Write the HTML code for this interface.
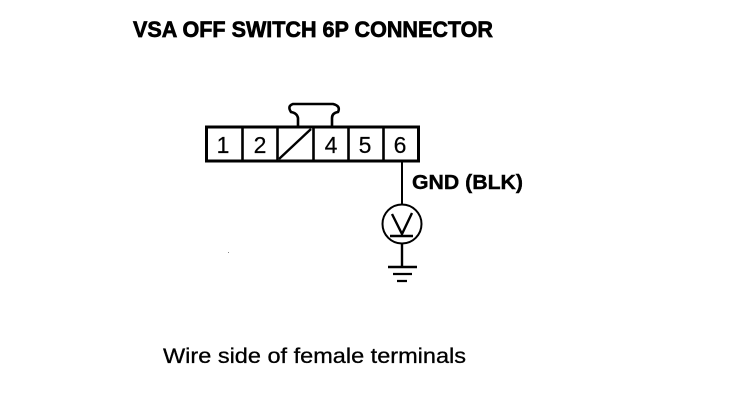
<!DOCTYPE html>
<html><head><meta charset="utf-8"><style>
html,body{margin:0;padding:0;background:#fff;width:736px;height:404px;overflow:hidden}
svg{display:block}
text{font-family:"Liberation Sans",Arial,sans-serif;fill:#000}
</style></head><body>
<svg width="736" height="404" viewBox="0 0 736 404" xmlns="http://www.w3.org/2000/svg">
<rect width="736" height="404" fill="#fff"/>
<text x="133" y="37" font-size="22.5" font-weight="bold" stroke="#000" stroke-width="0.7" textLength="360" lengthAdjust="spacingAndGlyphs">VSA OFF SWITCH 6P CONNECTOR</text>
<g fill="none" stroke="#000">
<path d="M298 126V118Q297 113 291 112Q287 106 293 104H333Q341 106 338 112Q332 113 332 118V126" stroke-width="2.6"/>
<rect x="206.5" y="127" width="212" height="34" stroke-width="3"/>
<path d="M242.5 127V161M277.5 127V161M313.5 127V161M348.5 127V161M383.5 127V161" stroke-width="2.6"/>
<path d="M279 159L311 129" stroke-width="2.4"/>
<path d="M402 161V205" stroke-width="2"/>
<circle cx="402" cy="224" r="19.5" stroke-width="2"/>
<path d="M392 214L402 234L412 213" stroke-width="2.4"/>
<path d="M390 236H413" stroke-width="2.6"/>
<path d="M402 243V267" stroke-width="2.4"/>
<path d="M388 267H417" stroke-width="2.6"/>
<path d="M393 274H412M397 281H407" stroke-width="2.2"/>
</g>
<g font-size="23" text-anchor="middle" stroke="#000" stroke-width="0.2">
<text x="223" y="153">1</text>
<text x="260" y="153">2</text>
<text x="331" y="153">4</text>
<text x="365" y="153">5</text>
<text x="400" y="153">6</text>
</g>
<text x="412" y="189" font-size="20.5" font-weight="bold" stroke="#000" stroke-width="0.4" textLength="111" lengthAdjust="spacingAndGlyphs">GND (BLK)</text>
<text x="163" y="363" font-size="21.5" textLength="303" lengthAdjust="spacingAndGlyphs" stroke="#000" stroke-width="0.3">Wire side of female terminals</text>
<rect x="228" y="252" width="1" height="1" fill="#888"/>
</svg>
</body></html>
